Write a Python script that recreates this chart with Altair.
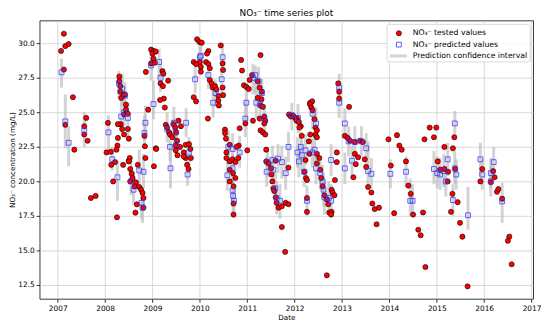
import altair as alt
import pandas as pd

# ---- data: (decimal year, NO3- mg/L) ----
tested_2007 = [
    (2007.13, 30.7), (2007.07, 29.45), (2007.16, 29.8), (2007.23, 29.95), (2007.13, 28.1),
    (2007.32, 26.1), (2007.16, 24.1), (2007.35, 22.3), (2007.60, 24.6), (2007.56, 24.0),
    (2007.56, 23.4), (2007.63, 22.95), (2007.70, 18.8), (2007.80, 18.95),
]
tested_2008 = [
    (2008.03, 22.1), (2008.12, 22.15), (2008.06, 24.24), (2008.25, 17.4), (2008.13, 21.2),
    (2008.21, 21.4), (2008.17, 20.0), (2008.38, 21.2), (2008.50, 21.5), (2008.52, 21.7),
    (2008.69, 21.2), (2008.85, 21.7), (2009.03, 21.1),
    (2008.30, 27.6), (2008.30, 27.25), (2008.32, 26.9), (2008.32, 26.5), (2008.34, 26.05),
    (2008.39, 26.25), (2008.42, 26.3), (2008.44, 25.57), (2008.44, 25.2), (2008.40, 24.85),
    (2008.48, 24.9), (2008.33, 24.15), (2008.36, 23.8), (2008.40, 23.4), (2008.48, 23.8),
    (2008.27, 24.15), (2008.27, 23.15), (2008.50, 23.1), (2008.26, 22.6), (2008.24, 22.3),
    (2008.50, 21.45), (2008.53, 20.9), (2008.56, 20.55), (2008.58, 20.24), (2008.53, 20.0),
    (2008.65, 19.93), (2008.62, 19.64), (2008.72, 19.6), (2008.76, 19.4), (2008.79, 19.17),
    (2008.81, 18.8), (2008.67, 18.34), (2008.81, 18.1), (2008.64, 17.74), (2008.84, 22.55),
    (2009.07, 22.4), (2008.83, 23.3),
]
tested_2009 = [
    (2008.97, 29.55), (2009.03, 29.45), (2009.00, 29.26), (2009.07, 29.4), (2009.02, 28.9),
    (2008.97, 28.55), (2009.05, 28.6), (2008.86, 27.93), (2009.21, 28.0), (2009.23, 27.8),
    (2009.33, 27.3), (2009.17, 27.1), (2009.22, 26.9), (2009.24, 26.0), (2009.16, 25.9),
    (2009.26, 25.35), (2008.91, 25.2), (2009.08, 22.35),
    (2009.28, 24.1), (2009.31, 23.9), (2009.35, 23.55), (2009.44, 24.15), (2009.48, 23.9),
    (2009.50, 23.55), (2009.55, 24.4), (2009.60, 24.0), (2009.37, 23.4), (2009.42, 23.2),
    (2009.52, 22.95), (2009.58, 22.5), (2009.70, 22.65), (2009.77, 22.7), (2009.80, 22.35),
    (2009.66, 22.1), (2009.49, 22.6), (2009.49, 22.25), (2009.53, 21.9), (2009.70, 21.7),
    (2009.66, 21.8), (2009.73, 21.2), (2009.76, 20.9), (2009.81, 21.7),
]
tested_2010 = [
    (2009.94, 30.3), (2009.99, 30.1), (2010.04, 30.05), (2010.44, 29.85), (2010.18, 29.45),
    (2010.15, 29.26), (2010.13, 28.65), (2010.18, 28.5), (2010.02, 28.3), (2010.00, 28.65),
    (2010.21, 28.2), (2010.48, 28.55), (2010.49, 28.07), (2010.02, 27.95), (2009.87, 28.65),
    (2009.92, 28.5), (2009.87, 26.1), (2009.92, 25.8),
    (2010.21, 27.35), (2010.25, 27.1), (2010.27, 26.8), (2010.32, 26.9), (2010.35, 26.65),
    (2010.48, 26.8), (2010.49, 26.25), (2010.39, 26.2), (2010.39, 25.85), (2010.40, 25.5),
    (2010.17, 24.55),
    (2010.53, 23.75), (2010.53, 23.5), (2010.55, 23.1), (2010.82, 22.6), (2010.63, 22.65),
    (2010.77, 22.5), (2010.56, 22.1),
    (2010.56, 21.7), (2010.63, 21.45), (2010.69, 21.6), (2010.75, 21.4), (2010.81, 21.7),
    (2010.63, 20.85), (2010.70, 20.6), (2010.75, 20.25), (2010.63, 20.0), (2010.71, 19.65),
    (2010.71, 18.4), (2010.71, 17.6),
]
tested_2011 = [
    (2010.87, 28.8), (2010.89, 28.03), (2011.28, 29.15), (2010.93, 26.97), (2010.98, 26.85),
    (2011.03, 26.7), (2011.05, 27.35), (2011.10, 27.7), (2011.22, 27.25), (2011.26, 26.8),
    (2011.31, 26.5), (2011.30, 25.95), (2011.28, 25.5), (2011.33, 25.4), (2011.22, 26.05),
    (2011.12, 24.4), (2011.26, 24.55), (2011.36, 24.7), (2011.38, 24.4), (2011.36, 24.2),
    (2010.96, 24.2), (2010.84, 23.85), (2011.28, 23.7), (2011.33, 23.55), (2011.38, 23.4),
    (2011.00, 22.25), (2011.40, 22.3),
    (2011.40, 21.45), (2011.45, 21.3), (2011.50, 20.95), (2011.51, 20.5), (2011.53, 20.0),
    (2011.55, 19.5), (2011.57, 19.3), (2011.60, 18.85), (2011.62, 18.45), (2011.66, 18.1),
    (2011.73, 18.2), (2011.81, 18.45), (2011.87, 18.35), (2011.87, 21.0), (2011.73, 16.7),
    (2011.80, 14.9), (2011.60, 21.5),
]
tested_2012 = [
    (2011.88, 24.85), (2011.92, 24.7), (2011.97, 24.75), (2012.01, 24.6), (2012.05, 24.55),
    (2012.04, 24.4), (2012.09, 24.3), (2012.13, 24.0), (2012.15, 23.3), (2012.10, 23.9),
    (2012.33, 25.7), (2012.37, 25.8), (2012.32, 25.6), (2012.35, 25.35), (2012.38, 25.15),
    (2012.42, 24.5), (2012.44, 23.9), (2012.47, 23.7), (2012.44, 23.4), (2012.47, 23.2),
    (2012.33, 23.4), (2012.30, 22.9), (2012.31, 22.0), (2012.47, 22.0), (2012.52, 21.7),
    (2012.23, 21.55), (2012.21, 20.7), (2012.24, 20.25), (2012.26, 20.1), (2012.26, 18.8),
    (2012.26, 17.8), (2012.47, 21.3), (2012.54, 20.85), (2012.56, 20.25), (2012.59, 19.65),
    (2012.63, 19.0), (2012.68, 18.7), (2012.71, 18.35), (2012.73, 17.75), (2012.78, 17.8),
    (2012.77, 17.6), (2012.68, 13.2), (2012.78, 19.4), (2012.80, 19.2), (2012.84, 19.0),
    (2012.85, 20.1), (2012.89, 21.4), (2012.89, 22.1),
]
tested_2013 = [
    (2012.92, 27.1), (2012.94, 26.5), (2012.94, 26.0), (2013.15, 25.4), (2013.06, 23.3),
    (2013.12, 23.15), (2013.17, 22.95), (2013.27, 22.85), (2013.38, 22.95), (2013.44, 22.85),
    (2013.27, 22.0), (2013.34, 21.75), (2013.48, 21.6), (2013.51, 21.05), (2013.24, 20.3),
    (2013.29, 21.25), (2013.55, 19.6), (2013.62, 19.2), (2013.64, 18.4), (2013.69, 18.0),
    (2013.78, 18.1), (2013.73, 16.9),
]
tested_2014 = [
    (2013.98, 23.05), (2014.16, 23.35), (2014.21, 22.6), (2014.26, 22.3), (2014.35, 21.45),
    (2014.03, 21.15), (2014.10, 17.7), (2014.40, 19.7), (2014.45, 19.1), (2014.50, 17.6),
    (2014.71, 17.75), (2014.61, 16.5), (2014.66, 16.1), (2014.76, 13.8),
]
tested_2015 = [
    (2014.85, 23.9), (2014.99, 23.9), (2014.74, 23.05), (2014.94, 23.2), (2015.16, 22.5),
    (2015.34, 22.4), (2015.37, 23.2), (2015.02, 21.45), (2015.07, 20.85), (2015.16, 20.9),
    (2015.24, 20.7), (2015.23, 20.0), (2015.33, 19.1), (2015.44, 18.5), (2015.30, 17.8),
    (2015.49, 17.0), (2015.54, 16.0), (2015.65, 12.4), (2015.39, 20.9),
]
tested_2016 = [
    (2015.96, 20.9), (2015.92, 20.0), (2016.19, 20.75), (2016.22, 20.3), (2016.14, 19.95),
    (2016.27, 19.25), (2016.30, 19.45), (2016.38, 18.75), (2016.53, 16.0), (2016.50, 15.7),
    (2016.58, 14.0),
]

# (decimal year, predicted NO3-, interval low, interval high)
predicted_2007_2009 = [
    (2007.08, 27.9, 26.8, 28.9), (2007.16, 24.35, 22.4, 26.3), (2007.23, 22.8, 21.1, 24.0),
    (2007.56, 23.7, 22.5, 25.0), (2008.07, 23.55, 22.3, 24.8), (2008.15, 21.6, 20.8, 22.5),
    (2008.26, 20.3, 18.6, 21.5), (2008.29, 27.1, 26.0, 28.0), (2008.36, 26.7, 25.5, 27.8),
    (2008.42, 26.2, 25.0, 27.2), (2008.34, 24.7, 23.5, 25.8), (2008.48, 24.6, 23.3, 25.7),
    (2008.40, 25.0, 24.0, 26.0), (2008.60, 19.4, 18.3, 20.8), (2008.72, 20.8, 19.5, 22.3),
    (2008.81, 20.7, 19.5, 22.0), (2008.77, 18.45, 17.3, 19.6), (2008.79, 18.1, 17.0, 19.5),
    (2008.55, 20.0, 19.0, 21.5), (2009.38, 20.95, 19.5, 22.8), (2008.97, 28.4, 27.3, 29.5),
    (2009.14, 28.65, 27.5, 29.6), (2009.17, 27.5, 26.5, 28.5), (2009.02, 25.6, 24.5, 27.3),
    (2008.85, 24.25, 23.0, 25.5), (2008.83, 23.5, 22.5, 24.8), (2009.45, 24.25, 23.0, 25.4),
    (2009.71, 24.25, 23.2, 25.3), (2009.31, 23.8, 22.8, 25.0), (2009.49, 23.55, 22.5, 24.6),
    (2009.37, 22.5, 21.5, 23.6), (2009.77, 22.1, 21.0, 23.2), (2009.50, 22.7, 21.7, 23.8),
    (2009.74, 20.5, 19.7, 21.5),
]
predicted_2010_2011 = [
    (2009.90, 27.4, 26.4, 28.4), (2010.00, 29.0, 28.0, 30.0), (2010.48, 29.0, 28.0, 30.0),
    (2010.46, 27.4, 26.3, 28.4), (2010.18, 27.7, 26.7, 28.7), (2010.33, 26.4, 25.4, 27.4),
    (2010.28, 25.7, 24.6, 26.9), (2010.02, 29.1, 28.0, 30.1), (2010.98, 25.7, 24.4, 27.0),
    (2011.19, 25.7, 24.6, 26.8), (2011.27, 25.6, 24.5, 26.6), (2011.31, 26.4, 25.4, 27.4),
    (2010.96, 24.55, 23.2, 25.8), (2011.17, 27.7, 26.4, 28.4), (2011.24, 27.25, 26.2, 28.3),
    (2011.12, 27.5, 26.3, 28.5), (2011.36, 24.55, 23.5, 25.6), (2010.60, 22.5, 21.3, 23.7),
    (2010.69, 22.35, 21.2, 23.5), (2010.84, 22.1, 21.0, 23.3), (2010.58, 20.45, 19.3, 21.8),
    (2010.69, 20.95, 19.8, 22.0), (2010.69, 19.35, 18.2, 20.5), (2010.70, 18.95, 17.8, 20.0),
    (2010.72, 18.6, 17.4, 19.7), (2011.43, 21.4, 20.3, 22.5), (2011.41, 20.7, 19.6, 21.8),
    (2011.53, 21.55, 20.5, 22.6), (2011.55, 20.85, 19.8, 21.9), (2011.59, 19.5, 18.3, 20.7),
    (2011.62, 18.8, 17.6, 20.0), (2011.69, 18.6, 17.3, 19.8), (2011.73, 21.4, 20.2, 22.6),
    (2011.81, 20.6, 19.4, 21.8), (2011.65, 21.65, 20.6, 22.7), (2011.87, 22.5, 21.4, 23.6),
]
predicted_2012_2013 = [
    (2012.13, 22.5, 21.4, 23.6), (2012.06, 22.1, 21.0, 23.2), (2012.15, 21.9, 20.8, 23.0),
    (2012.23, 22.25, 21.2, 23.4), (2012.37, 22.1, 21.0, 23.2), (2012.42, 22.3, 21.2, 23.4),
    (2011.94, 24.8, 23.7, 25.7), (2012.07, 24.6, 23.5, 25.6), (2012.38, 24.9, 23.8, 26.0),
    (2012.45, 24.2, 23.0, 25.4), (2012.94, 26.8, 25.7, 27.8), (2012.94, 25.7, 24.6, 26.8),
    (2013.06, 24.2, 23.1, 25.3), (2013.14, 22.9, 21.8, 24.0), (2013.27, 22.85, 21.7, 24.0),
    (2013.21, 21.5, 20.4, 22.6), (2013.41, 22.9, 21.8, 24.0), (2013.51, 22.4, 21.3, 23.5),
    (2012.09, 21.45, 20.3, 22.6), (2012.20, 20.7, 19.6, 21.8), (2012.26, 18.6, 17.5, 19.7),
    (2012.45, 20.95, 19.8, 22.1), (2012.54, 20.6, 19.4, 21.8), (2012.59, 20.0, 18.8, 21.2),
    (2012.61, 19.4, 18.2, 20.6), (2012.63, 18.85, 17.6, 20.0), (2012.72, 18.8, 17.6, 20.0),
    (2012.77, 18.6, 17.4, 19.8), (2013.06, 20.95, 19.8, 22.1), (2012.77, 21.55, 20.4, 22.7),
    (2013.55, 20.75, 19.6, 22.9), (2013.62, 20.55, 19.5, 21.7),
]
predicted_2014_2016 = [
    (2014.02, 20.55, 19.5, 21.6), (2014.35, 20.7, 19.6, 21.8), (2014.44, 18.6, 17.5, 20.2),
    (2014.49, 18.6, 17.5, 19.8), (2014.94, 20.9, 19.8, 22.2), (2015.01, 20.6, 19.5, 21.8),
    (2015.07, 20.5, 19.4, 21.7), (2015.15, 20.75, 19.6, 22.0), (2015.23, 21.6, 20.4, 22.8),
    (2015.19, 20.0, 18.9, 21.2), (2015.34, 18.65, 17.5, 19.8), (2015.38, 20.95, 19.8, 22.2),
    (2015.41, 20.5, 19.4, 21.6), (2015.38, 24.2, 23.0, 25.1), (2015.66, 17.55, 16.5, 19.6),
    (2015.92, 21.6, 20.4, 22.8), (2015.96, 20.5, 19.4, 21.6), (2016.14, 20.6, 19.5, 21.7),
    (2016.14, 20.0, 18.9, 21.1), (2016.20, 21.4, 20.2, 22.5), (2016.38, 18.55, 17.0, 19.9),
]

year_ticks = list(range(2007, 2018))
value_ticks = [12.5, 15.0, 17.5, 20.0, 22.5, 25.0, 27.5, 30.0]

title_text = "NO₃⁻ time series plot"
y_title = "NO₃⁻ concentration (mg/L)"
x_title = "Date"
legend_labels = ["NO₃⁻ tested values", "NO₃⁻ predicted values", "Prediction confidence interval"]

tested = (tested_2007 + tested_2008 + tested_2009 + tested_2010 + tested_2011 +
          tested_2012 + tested_2013 + tested_2014 + tested_2015 + tested_2016)
predicted = predicted_2007_2009 + predicted_2010_2011 + predicted_2012_2013 + predicted_2014_2016

df_t = pd.DataFrame(tested, columns=["date", "no3"])
df_p = pd.DataFrame(predicted, columns=["date", "no3", "lo", "hi"])

FONT = "DejaVu Sans"
x_scale = alt.Scale(domain=[2006.617, 2017.033], nice=False, zero=False)
y_scale = alt.Scale(domain=[11.5, 31.66], nice=False, zero=False)

x_axis = alt.Axis(values=year_ticks, format="d", title=x_title, grid=True,
                  titleX=250, titleY=19, titleBaseline="middle")
y_axis = alt.Axis(values=value_ticks, format=".1f", title=y_title, grid=True,
                  titleX=-27, titleY=141, titleAngle=-90, titleBaseline="middle")

ci = alt.Chart(df_p).mark_rule(color="#bcbcbc", strokeWidth=3, opacity=0.65).encode(
    x=alt.X("date:Q", scale=x_scale, axis=x_axis),
    y=alt.Y("lo:Q", scale=y_scale, axis=y_axis),
    y2="hi:Q",
)
pts_t = alt.Chart(df_t).mark_point(shape="circle", filled=True, fill="#ff0000", stroke="#000000",
                                   strokeWidth=0.6, size=27, opacity=1).encode(
    x=alt.X("date:Q", scale=x_scale),
    y=alt.Y("no3:Q", scale=y_scale),
)
pts_p = alt.Chart(df_p).mark_point(shape="square", filled=False, color="#3c3cff",
                                   strokeWidth=0.9, size=24, opacity=0.9).encode(
    x=alt.X("date:Q", scale=x_scale),
    y=alt.Y("no3:Q", scale=y_scale),
)

# legend box (top right, inside the plot)
one = pd.DataFrame({"k": [0]})
leg_box = alt.Chart(one).mark_rect(fill="white", stroke="#cccccc", strokeWidth=0.8,
                                   cornerRadius=2, opacity=0.9).encode(
    x=alt.value(352), x2=alt.value(497), y=alt.value(4), y2=alt.value(42))
leg_dot = alt.Chart(one).mark_point(shape="circle", filled=True, fill="#ff0000", stroke="#000000",
                                    strokeWidth=0.6, size=27, opacity=1).encode(
    x=alt.value(364), y=alt.value(13))
leg_sq = alt.Chart(one).mark_point(shape="square", filled=False, color="#3c3cff",
                                   strokeWidth=0.9, size=24, opacity=0.9).encode(
    x=alt.value(364), y=alt.value(24.5))
leg_line = alt.Chart(one).mark_rule(color="#bcbcbc", strokeWidth=3, opacity=0.65).encode(
    x=alt.value(355), x2=alt.value(372), y=alt.value(36))
leg_texts = [
    alt.Chart(one).mark_text(align="left", baseline="middle", font=FONT, fontSize=7.8,
                             color="#000000").encode(
        x=alt.value(378), y=alt.value(yy), text=alt.value(lbl))
    for lbl, yy in zip(legend_labels, [13, 24.5, 36])
]

chart = alt.layer(ci, pts_t, pts_p, leg_box, leg_dot, leg_sq, leg_line, *leg_texts).properties(
    width=500,
    height=282,
    padding={"left": 32, "top": 10.5, "right": 9, "bottom": 28},
    autosize=alt.AutoSizeParams(type="none"),
    title=alt.Title(title_text, font=FONT, fontSize=9, fontWeight="normal",
                    color="#000000", offset=3),
).configure_view(
    stroke="#222222", strokeWidth=0.9
).configure_axis(
    labelFont=FONT, titleFont=FONT, labelFontSize=7.5, titleFontSize=7.3,
    titleFontWeight="normal", labelColor="#000000", titleColor="#000000",
    gridColor="#cfcfcf", gridWidth=0.8, domain=False,
    tickColor="#000000", tickSize=3.5, tickWidth=0.8, labelPadding=2,
)

chart.save("out.html", embed_options={"renderer": "svg", "actions": False})
